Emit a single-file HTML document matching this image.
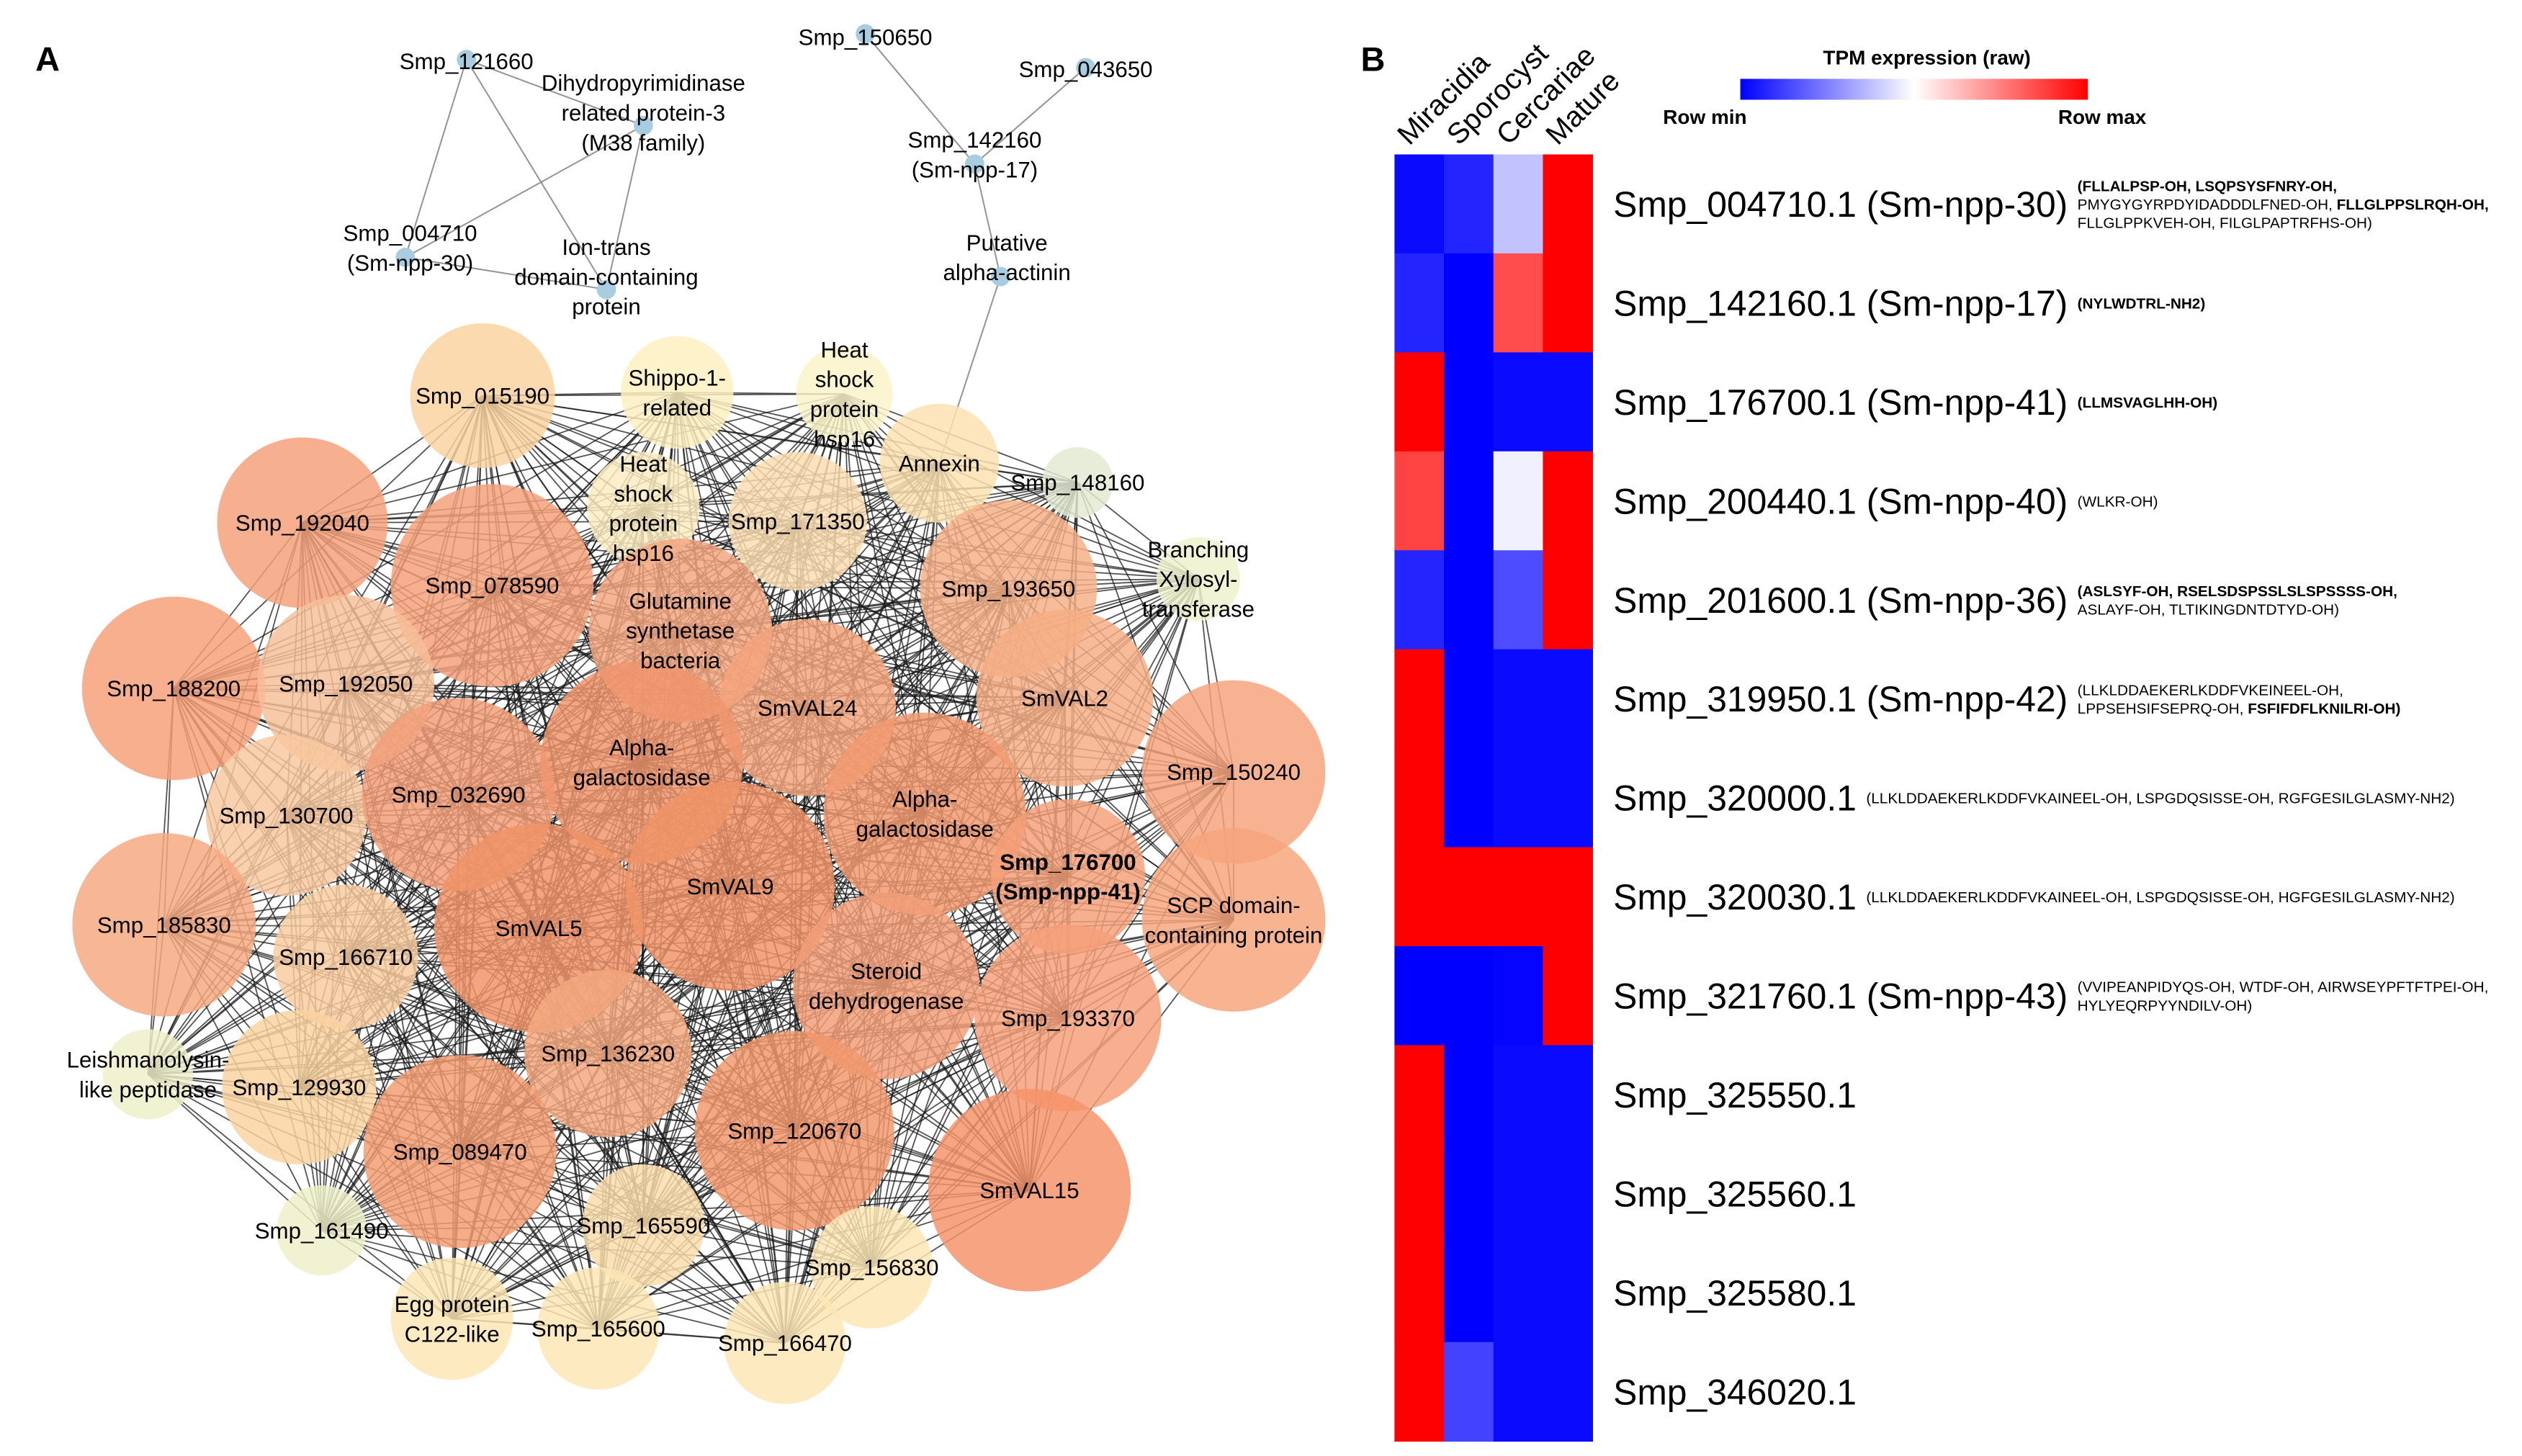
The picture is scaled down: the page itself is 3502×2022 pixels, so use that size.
<!DOCTYPE html>
<html><head><meta charset="utf-8">
<style>
html,body{margin:0;padding:0;background:#fff;}
svg{display:block;}
text{font-family:"Liberation Sans",Arial,sans-serif;}
</style></head>
<body>
<svg id="fig" xmlns="http://www.w3.org/2000/svg" width="3502" height="2022" viewBox="0 0 1568 905.3">
<rect width="1568" height="906" fill="#fff"/>
<text x="22" y="44" font-size="21" font-weight="bold">A</text>
<text x="846" y="44" font-size="21" font-weight="bold">B</text>
<g id="net"></g>
<g id="heat"></g>
<defs>
<linearGradient id="cb" x1="0" x2="1" y1="0" y2="0">
<stop offset="0" stop-color="#0000ff"/><stop offset="0.5" stop-color="#ffffff"/><stop offset="1" stop-color="#ff0000"/>
</linearGradient>
</defs>
<g>
<text x="1198" y="40" font-size="12.5" font-weight="bold" text-anchor="middle">TPM expression (raw)</text>
<rect x="1082" y="49" width="216" height="13" fill="url(#cb)"/>
<text x="1060" y="77" font-size="12.5" font-weight="bold" text-anchor="middle">Row min</text>
<text x="1307" y="77" font-size="12.5" font-weight="bold" text-anchor="middle">Row max</text>
</g>
</svg>
<script>
const NS="http://www.w3.org/2000/svg";
// ---------- Heatmap data ----------
const stages=["Miracidia","Sporocyst","Cercariae","Mature"];
const genes=["Smp_004710.1 (Sm-npp-30)","Smp_142160.1 (Sm-npp-17)","Smp_176700.1 (Sm-npp-41)","Smp_200440.1 (Sm-npp-40)","Smp_201600.1 (Sm-npp-36)","Smp_319950.1 (Sm-npp-42)","Smp_320000.1","Smp_320030.1","Smp_321760.1 (Sm-npp-43)","Smp_325550.1","Smp_325560.1","Smp_325580.1","Smp_346020.1"];
const expr=[
[0.02,0.07,0.38,1],[0.07,0,0.85,1],[1,0,0.02,0.02],[0.87,0,0.47,1],[0.07,0,0.15,1],
[1,0,0.02,0.02],[1,0,0.02,0.02],[1,1,1,1],[0,0,0.01,1],[1,0,0.02,0.02],
[1,0,0.02,0.02],[1,0,0.02,0.02],[1,0.13,0.02,0.02]];
const peptides=[
[[["(FLLALPSP-OH, LSQPSYSFNRY-OH,",1]],[["PMYGYGYRPDYIDADDDLFNED-OH, ",0],["FLLGLPPSLRQH-OH,",1]],[["FLLGLPPKVEH-OH, FILGLPAPTRFHS-OH)",0]]],
[[["(NYLWDTRL-NH2)",1]]],
[[["(LLMSVAGLHH-OH)",1]]],
[[["(WLKR-OH)",0]]],
[[["(ASLSYF-OH, RSELSDSPSSLSLSPSSSS-OH,",1]],[["ASLAYF-OH, TLTIKINGDNTDTYD-OH)",0]]],
[[["(LLKLDDAEKERLKDDFVKEINEEL-OH,",0]],[["LPPSEHSIFSEPRQ-OH, ",0],["FSFIFDFLKNILRI-OH)",1]]],
[[["(LLKLDDAEKERLKDDFVKAINEEL-OH, LSPGDQSISSE-OH, RGFGESILGLASMY-NH2)",0]]],
[[["(LLKLDDAEKERLKDDFVKAINEEL-OH, LSPGDQSISSE-OH, HGFGESILGLASMY-NH2)",0]]],
[[["(VVIPEANPIDYQS-OH, WTDF-OH, AIRWSEYPFTFTPEI-OH,",0]],[["HYLYEQRPYYNDILV-OH)",0]]],
[],[],[],[]];
const hx0=867, hx1=990, hy0=96, hy1=896;
function colX(i){return hx0+(hx1-hx0)/stages.length*i;}
function rowY(i){return hy0+(hy1-hy0)/genes.length*i;}
function cmap(t){let r,g,b;if(t<0.5){const f=t/0.5;r=Math.round(255*f);g=r;b=255;}else{const f=(t-0.5)/0.5;r=255;g=Math.round(255*(1-f));b=g;}return `rgb(${r},${g},${b})`;}
const heat=document.getElementById('heat');
const cw=(hx1-hx0)/stages.length, rh=(hy1-hy0)/genes.length;
expr.forEach((row,i)=>{row.forEach((v,j)=>{
 const r=document.createElementNS(NS,'rect');
 r.setAttribute('x',colX(j));r.setAttribute('y',rowY(i));r.setAttribute('width',cw+0.4);r.setAttribute('height',rh+0.4);
 r.setAttribute('fill',cmap(v));
 
 
 heat.appendChild(r);});});
stages.forEach((s,j)=>{
 const t=document.createElementNS(NS,'text');
 const x=colX(j)+cw*0.3, y=hy0-5;
 t.setAttribute('x',x);t.setAttribute('y',y);t.setAttribute('font-size','18');
 t.setAttribute('transform',`rotate(-45 ${x} ${y})`);
 t.textContent=s;
 
 
 heat.appendChild(t);});
genes.forEach((g,i)=>{
 const cy=rowY(i)+rh/2;
 const t=document.createElementNS(NS,'text');
 t.setAttribute('x',1003);t.setAttribute('y',cy+8);t.setAttribute('font-size','22.3');
 t.textContent=g;
 
 
 heat.appendChild(t);
 const w=t.getComputedTextLength();
 const lines=peptides[i]; const n=lines.length;
 lines.forEach((ln,k)=>{
  const p=document.createElementNS(NS,'text');
  p.setAttribute('x',1003+w+6);p.setAttribute('y',cy+3.5+(k-(n-1)/2)*11.5);p.setAttribute('font-size','9.3');
  ln.forEach(seg=>{const ts=document.createElementNS(NS,'tspan');ts.textContent=seg[0];if(seg[1])ts.setAttribute('font-weight','bold');p.appendChild(ts);});
  
  
  heat.appendChild(p);});
});
// ---------- Network ----------
const nodes=[
[["Smp_015190"],300,246,45,"#fbd3a0",1],
[["Shippo-1-","related"],421,244,35,"#fdf0c0",1],
[["Heat","shock","protein","hsp16"],525,245,30,"#fbf3c8",1],
[["Annexin"],584,288,37,"#fde0b0",1],
[["Smp_148160"],670,300,22,"#e2ead0",1],
[["Branching","Xylosyl-","transferase"],745,360,26,"#eef2cc",1],
[["Smp_192040"],188,325,53,"#f4a07a",1],
[["Smp_078590"],306,364,63,"#f4a07a",1],
[["Heat","shock","protein","hsp16"],400,316,35,"#fbecc0",1],
[["Smp_171350"],496,324,43,"#fcdcb0",1],
[["Glutamine","synthetase","bacteria"],423,392,57,"#f3a680",1],
[["Smp_193650"],627,366,55,"#f6b088",1],
[["Smp_188200"],108,428,57,"#f5a078",1],
[["Smp_192050"],215,425,55,"#f6c09a",1],
[["SmVAL24"],502,440,55,"#f3a47c",1],
[["SmVAL2"],662,434,55,"#f6ae86",1],
[["Smp_150240"],767,480,57,"#f6a47c",1],
[["Smp_130700"],178,507,50,"#f8c8a0",1],
[["Smp_032690"],285,494,60,"#f29e78",1],
[["Alpha-","galactosidase"],399,474,63,"#f0956c",1],
[["Alpha-","galactosidase"],575,506,63,"#f29a70",1],
[["Smp_176700","(Smp-npp-41)"],664,545,48,"#f4a07a",1],
[["SCP domain-","containing protein"],767,572,57,"#f7a57c",1],
[["Smp_185830"],102,575,57,"#f6a880",1],
[["Smp_166710"],215,595,45,"#f8cca0",1],
[["SmVAL5"],335,577,65,"#f09468",1],
[["SmVAL9"],454,551,65,"#f09468",1],
[["Steroid","dehydrogenase"],551,613,58,"#f29e78",1],
[["Smp_193370"],664,633,58,"#f6a07a",1],
[["Leishmanolysin-","like peptidase"],92,668,28,"#eef0c8",1],
[["Smp_129930"],186,676,48,"#fbd3a0",1],
[["Smp_136230"],378,655,52,"#f4a880",1],
[["Smp_089470"],286,716,60,"#f29c72",1],
[["Smp_120670"],494,703,62,"#f2976c",1],
[["SmVAL15"],640,740,63,"#f5926a",1],
[["Smp_161490"],200,765,28,"#eef0c8",1],
[["Smp_165590"],400,762,38,"#fcdcaa",1],
[["Smp_156830"],542,788,38,"#fde6b4",1],
[["Egg protein","C122-like"],281,820,38,"#fde6b4",1],
[["Smp_165600"],372,826,38,"#fde6b4",1],
[["Smp_166470"],488,835,38,"#fde6b4",1],
[["Smp_121660"],290,37,6,"#a9cde0",2],
[["Dihydropyrimidinase","related protein-3","(M38 family)"],400,78,6,"#a9cde0",2],
[["Smp_004710","(Sm-npp-30)"],252,160,6,"#a9cde0",2],
[["Ion-trans","domain-containing","protein"],377,180,6,"#a9cde0",2],
[["Smp_150650"],538,21,6,"#a9cde0",2],
[["Smp_043650"],675,42,6,"#a9cde0",2],
[["Smp_142160","(Sm-npp-17)"],606,102,6,"#a9cde0",2],
[["Putative","alpha-actinin"],622,172,6,"#a9cde0",2]];
const smallEdges=[[41,42],[41,43],[41,44],[42,43],[42,44],[43,44],[45,47],[46,47],[47,48],[48,3]];
const labelOffset={42:[0,-8],43:[3,-6],44:[0,-8],45:[0,2],46:[0,1],47:[0,-6],48:[4,-12],41:[0,1]};
const net=document.getElementById('net');
const eg=document.createElementNS(NS,'g');


net.appendChild(eg);
const big=nodes.map((n,i)=>i).filter(i=>nodes[i][5]===1);
function addLine(a,b,op,col,w){
 const l=document.createElementNS(NS,'line');
 l.setAttribute('x1',nodes[a][1]);l.setAttribute('y1',nodes[a][2]);l.setAttribute('x2',nodes[b][1]);l.setAttribute('y2',nodes[b][2]);
 l.setAttribute('stroke',col);l.setAttribute('stroke-width',w);l.setAttribute('stroke-opacity',op);
 
 
 eg.appendChild(l);}
for(let a=0;a<big.length;a++)for(let b=a+1;b<big.length;b++){
 const A=nodes[big[a]],B=nodes[big[b]];
 const d=Math.hypot(A[1]-B[1],A[2]-B[2]);
 if(d<600) addLine(big[a],big[b],0.75,"#1a1a1a",0.8);}
smallEdges.forEach(e=>addLine(e[0],e[1],0.9,"#888",0.9));
nodes.forEach((n,i)=>{
 const c=document.createElementNS(NS,'circle');
 c.setAttribute('cx',n[1]);c.setAttribute('cy',n[2]);c.setAttribute('r',n[3]);
 c.setAttribute('fill',n[4]);c.setAttribute('fill-opacity',n[5]===1?'0.84':'1');
 
 
 net.appendChild(c);});
nodes.forEach((n,i)=>{
 const off=labelOffset[i]||[0,0];
 const lines=n[0], k=lines.length, lh=18.5;
 const t=document.createElementNS(NS,'text');
 t.setAttribute('text-anchor','middle');t.setAttribute('font-size','14');
 if(i===21) t.setAttribute('font-weight','bold');
 lines.forEach((s,j)=>{const ts=document.createElementNS(NS,'tspan');ts.setAttribute('x',n[1]+off[0]);
  ts.setAttribute('y',n[2]+off[1]+5+(j-(k-1)/2)*lh);ts.textContent=s;t.appendChild(ts);});
 
 
 net.appendChild(t);});
</script>
</body></html>
